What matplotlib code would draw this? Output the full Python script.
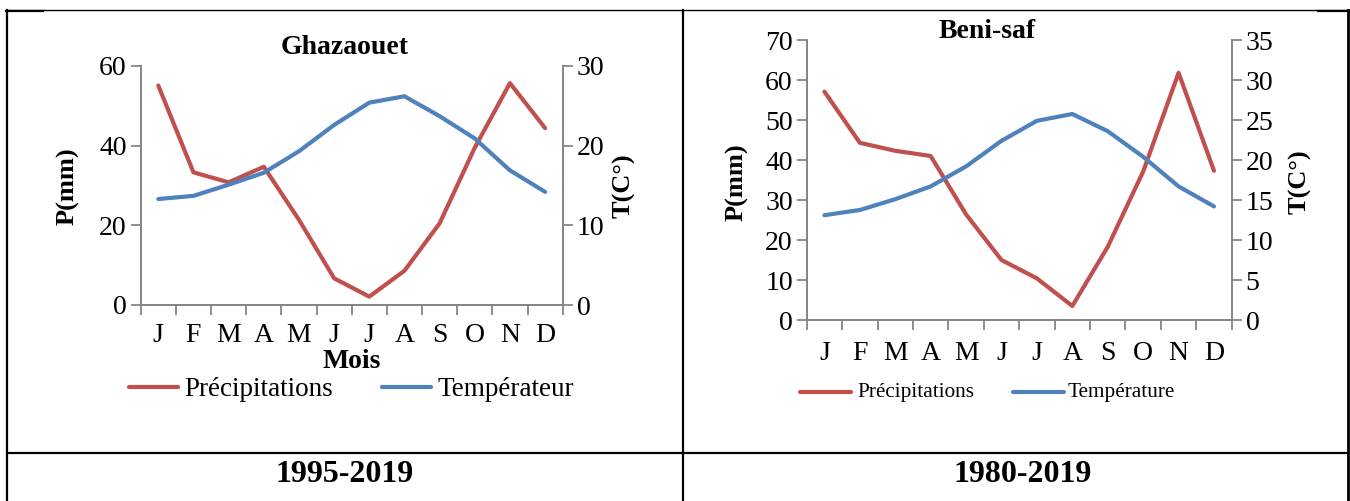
import matplotlib
matplotlib.use("Agg")
import matplotlib.pyplot as plt
from matplotlib.lines import Line2D

plt.rcParams['font.family'] = ['Liberation Serif', 'DejaVu Serif']

months = ['J', 'F', 'M', 'A', 'M', 'J', 'J', 'A', 'S', 'O', 'N', 'D']

# Ghazaouet 1995-2019
ghaz_precip = [55.1, 33.3, 30.8, 34.7, 21.4, 6.7, 2.1, 8.6, 20.5, 39.5, 55.7, 44.4]
ghaz_temp = [13.3, 13.7, 15.1, 16.6, 19.3, 22.6, 25.4, 26.2, 23.7, 20.9, 16.9, 14.2]

# Beni-saf 1980-2019
beni_precip = [57.1, 44.3, 42.3, 41.0, 26.4, 15.0, 10.4, 3.5, 18.3, 37.1, 61.8, 37.3]
beni_temp = [13.1, 13.75, 15.1, 16.7, 19.2, 22.4, 24.9, 25.75, 23.6, 20.4, 16.7, 14.2]

RED = '#C0504D'
BLUE = '#4F81BD'
GREY = '#868686'
W, H = 1350, 501

fig = plt.figure(figsize=(13.5, 5.01), dpi=100)


def fx(px):
    return px / W


def fy(py):
    return 1 - py / H


def make_chart(rect, precip, temp, pmax, pstep, tmax, tstep, xpad):
    ax = fig.add_axes(rect)
    ax2 = ax.twinx()
    x = list(range(len(months)))
    ax.plot(x, precip, color=RED, lw=3.0, solid_capstyle='round', zorder=3)
    ax2.plot(x, temp, color=BLUE, lw=3.0, solid_capstyle='round', zorder=3)
    ax.set_xlim(-0.5, len(months) - 0.5)
    ax.set_ylim(0, pmax)
    ax2.set_ylim(0, tmax)
    ax.set_yticks(range(0, pmax + 1, pstep))
    ax2.set_yticks(range(0, tmax + 1, tstep))
    ax.set_xticks([i - 0.5 for i in range(len(months) + 1)])
    ax.set_xticklabels([])
    ax.set_xticks(x, minor=True)
    ax.set_xticklabels(months, minor=True)
    ax.tick_params(axis='x', which='minor', length=0, pad=xpad, labelsize=20)
    ax.tick_params(axis='x', which='major', length=7, width=1.3, color=GREY)
    ax.tick_params(axis='y', length=7, width=1.3, color=GREY, labelsize=20, pad=3)
    ax2.tick_params(axis='y', length=7, width=1.3, color=GREY, labelsize=20, pad=3)
    for a in (ax, ax2):
        a.spines['top'].set_visible(False)
        for s in ('left', 'right', 'bottom'):
            a.spines[s].set_color(GREY)
            a.spines[s].set_linewidth(1.3)
        a.patch.set_visible(False)
    return ax, ax2


# left chart: Ghazaouet
make_chart([fx(140.7), fy(305), fx(562.7 - 140.7), (305 - 66) / H],
           ghaz_precip, ghaz_temp, 60, 20, 30, 10, 13)
fig.text(fx(345), fy(48), 'Ghazaouet', ha='center', va='center', fontsize=20, fontweight='bold')
fig.text(fx(68), fy(186), 'P(mm)', ha='center', va='center', rotation=90, fontsize=19, fontweight='bold')
fig.text(fx(624), fy(186), 'T(C°)', ha='center', va='center', rotation=90, fontsize=19, fontweight='bold')
fig.text(fx(352), fy(362), 'Mois', ha='center', va='center', fontsize=20, fontweight='bold')
fig.add_artist(Line2D([fx(129), fx(178)], [fy(387)] * 2, color=RED, lw=3.0, solid_capstyle='round'))
fig.text(fx(184), fy(389), 'Précipitations', ha='left', va='center', fontsize=19.5)
fig.add_artist(Line2D([fx(382), fx(431)], [fy(387)] * 2, color=BLUE, lw=3.0, solid_capstyle='round'))
fig.text(fx(437), fy(389), 'Températeur', ha='left', va='center', fontsize=19.5)

# right chart: Beni-saf
make_chart([fx(806.7), fy(320), fx(1231.7 - 806.7), (320 - 40) / H],
           beni_precip, beni_temp, 70, 10, 35, 5, 15)
fig.text(fx(987), fy(32), 'Beni-saf', ha='center', va='center', fontsize=20, fontweight='bold')
fig.text(fx(737), fy(182), 'P(mm)', ha='center', va='center', rotation=90, fontsize=19, fontweight='bold')
fig.text(fx(1300), fy(182), 'T(C°)', ha='center', va='center', rotation=90, fontsize=19, fontweight='bold')
fig.add_artist(Line2D([fx(800), fx(851)], [fy(392)] * 2, color=RED, lw=3.0, solid_capstyle='round'))
fig.text(fx(857), fy(393), 'Précipitations', ha='left', va='center', fontsize=15.3)
fig.add_artist(Line2D([fx(1013), fx(1064)], [fy(392)] * 2, color=BLUE, lw=3.0, solid_capstyle='round'))
fig.text(fx(1068), fy(393), 'Température', ha='left', va='center', fontsize=15.3)

# table frame
fig.add_artist(Line2D([fx(6), fx(1349)], [fy(10)] * 2, color='black', lw=1.0))
fig.add_artist(Line2D([fx(6), fx(43)], [fy(10.5)] * 2, color='black', lw=1.6))
fig.add_artist(Line2D([fx(1318), fx(1349)], [fy(10.5)] * 2, color='black', lw=1.6))
fig.add_artist(Line2D([fx(7), fx(7)], [fy(10), fy(501)], color='black', lw=1.6))
fig.add_artist(Line2D([fx(683.5), fx(683.5)], [fy(10), fy(501)], color='black', lw=1.6))
fig.add_artist(Line2D([fx(1347.5), fx(1347.5)], [fy(10), fy(501)], color='black', lw=2.0))
fig.add_artist(Line2D([fx(7), fx(1348)], [fy(452.7)] * 2, color='black', lw=1.6))

fig.text(fx(345), fy(474), '1995-2019', ha='center', va='center', fontsize=23, fontweight='bold')
fig.text(fx(1023), fy(474), '1980-2019', ha='center', va='center', fontsize=23, fontweight='bold')

fig.savefig('out.png', dpi=100)
